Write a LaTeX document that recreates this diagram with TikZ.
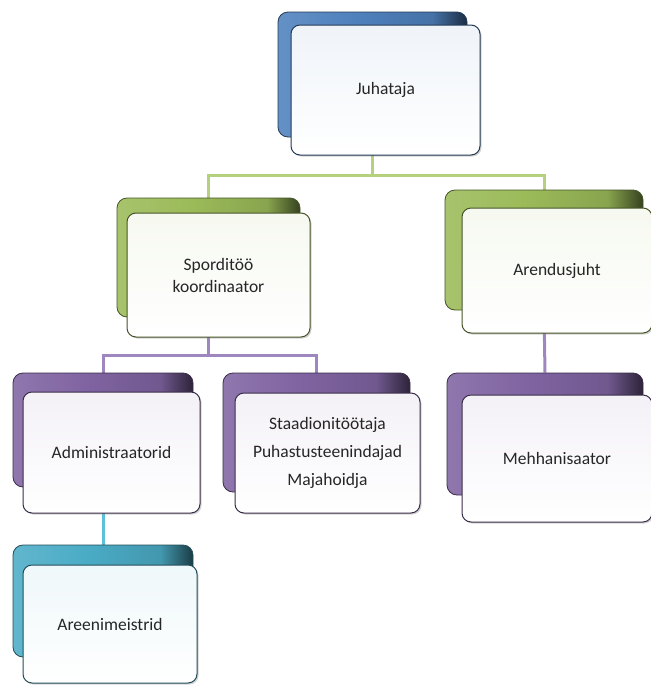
\documentclass[tikz,border=0pt]{standalone}
\usepackage{fontspec}
\setmainfont{Carlito}
\usetikzlibrary{shadows,backgrounds}
\definecolor{cblue}{HTML}{4F81BD}
\definecolor{cgreen}{HTML}{9BBB59}
\definecolor{cpurple}{HTML}{8064A2}
\definecolor{ccyan}{HTML}{4BACC6}
\definecolor{lgreen}{HTML}{B5D17E}
\definecolor{lpurple}{HTML}{9E86BE}
\definecolor{lcyan}{HTML}{5CC0D8}
\definecolor{txt}{HTML}{262626}
\newcommand{\mkshade}[1]{%
  \pgfdeclarehorizontalshading{back#1}{100bp}{color(0bp)=(#1!88!white); color(25bp)=(#1!88!white);
    color(45bp)=(#1); color(66bp)=(#1!88!black); color(75bp)=(#1!35!black); color(100bp)=(#1!35!black)}}
\mkshade{cblue}\mkshade{cgreen}\mkshade{cpurple}\mkshade{ccyan}
\tikzset{
  backbox/.style={rectangle, rounded corners=10pt, draw=#1!45!black, line width=0.8pt,
    shading=back#1, inner sep=0pt},
  frontbox/.style={rectangle, rounded corners=9pt, draw=#1!45!black, line width=1pt,
    top color=#1!9!white, bottom color=white, inner sep=2pt,
    drop shadow={opacity=0.35, shadow xshift=1.5pt, shadow yshift=-1.5pt},
    text=txt, align=center, font=\fontsize{17.5}{22}\selectfont},
  conn/.style={line width=3pt, draw=#1},
}
\newcommand{\obox}[9]{%
  % #1 name, #2 color, #3 back center, #4 back w, #5 back h, #6 front center, #7 front w, #8 front h, #9 text
  \node[backbox=#2, minimum width=#4pt, minimum height=#5pt] (#1b) at #3 {};
  \node[frontbox=#2, minimum width=#7pt, minimum height=#8pt] (#1) at #6 {#9};
}
\begin{document}
\begin{tikzpicture}[x=1pt,y=-1pt]
\useasboundingbox (0,0) rectangle (651,686);
\obox{jh}{cblue}{(372.5,74.5)}{189}{125}{(385.5,90)}{189}{130}{Juhataja}
\obox{sk}{cgreen}{(208.5,257.5)}{183}{119}{(218.5,275)}{183}{124}{Sporditöö\\koordinaator}
\obox{ar}{cgreen}{(544,250)}{198}{120}{(557,270.5)}{190}{125}{Arendusjuht}
\obox{ad}{cpurple}{(103,430)}{180}{114}{(111.5,452.5)}{177}{121}{Administraatorid}
\obox{st}{cpurple}{(316.5,432.5)}{187}{119}{(327.5,453)}{185}{120}{Staadionitöötaja\\[6pt]Puhastusteenindajad\\[6pt]Majahoidja}
\obox{me}{cpurple}{(545,434)}{196}{122}{(557,458.5)}{190}{127}{Mehhanisaator}
\obox{am}{ccyan}{(103,601)}{180}{112}{(110,624)}{174}{118}{Areenimeistrid}
\begin{scope}[on background layer]
  \draw[conn=lgreen] (jhb.south) -- ++(0,38) -| (skb.north);
  \draw[conn=lgreen] (jhb.south) -- ++(0,38) -| (arb.north);
  \draw[conn=lpurple] (skb.south) -- ++(0,38) -| (adb.north);
  \draw[conn=lpurple] (skb.south) -- ++(0,38) -| (stb.north);
  \draw[conn=lpurple] (arb.south) -- (meb.north);
  \draw[conn=lcyan] (adb.south) -- (amb.north);
\end{scope}
\end{tikzpicture}
\end{document}
